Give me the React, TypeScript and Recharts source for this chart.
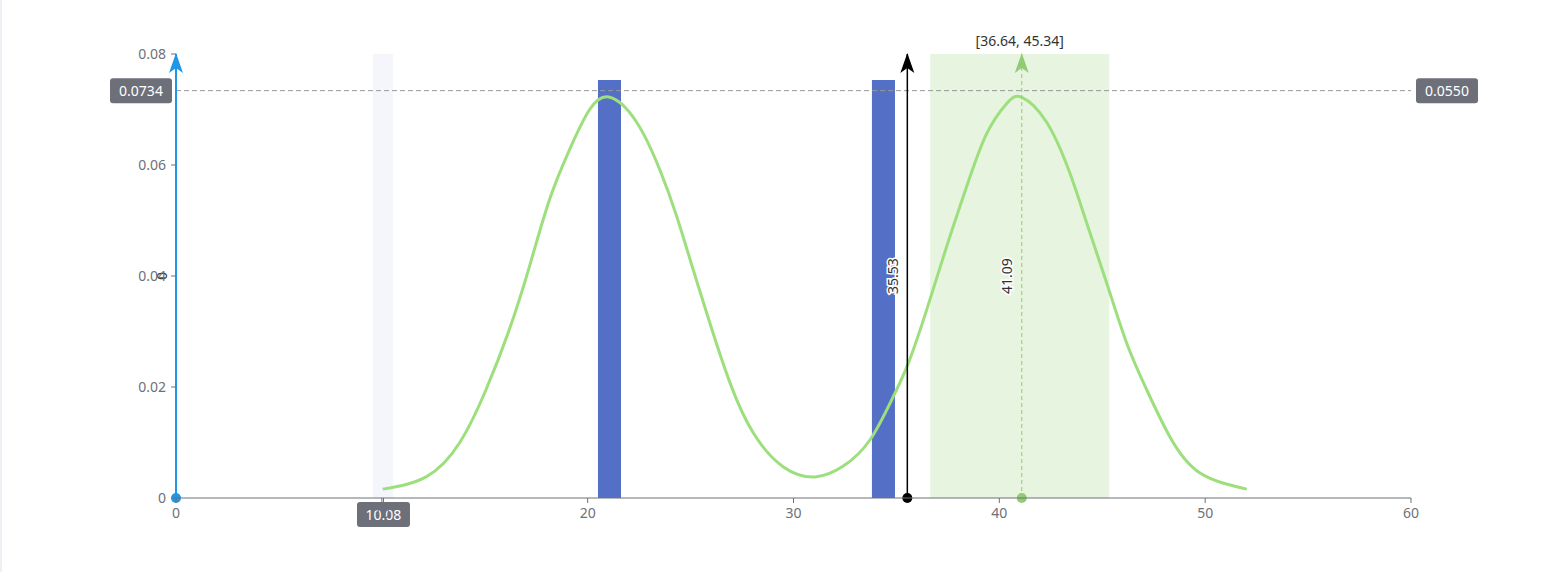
import React from 'react';
import { ComposedChart, Line, XAxis, YAxis, ReferenceArea, ReferenceLine } from 'recharts';

// ---- data ----
const curveX = [10.04, 12.15, 13.77, 15.06, 16.19, 17.17, 18.14, 19.11, 20.08, 21.08, 22.38, 23.51, 24.33, 25.13, 25.94, 26.92, 28.05, 29.51, 31.05, 32.4, 33.72, 34.85, 35.58, 36.47, 37.44, 38.41, 39.39, 40.36, 41.09, 42.3, 43.43, 44.25, 45.22, 46.19, 47.16, 48.29, 49.75, 52.02];
const curveY = [0.0016, 0.0038, 0.0099, 0.0195, 0.0303, 0.0417, 0.0537, 0.0627, 0.0699, 0.0722, 0.0677, 0.0591, 0.0507, 0.0411, 0.0315, 0.0207, 0.0117, 0.0056, 0.0038, 0.0057, 0.0105, 0.0183, 0.0243, 0.0339, 0.0453, 0.0561, 0.0657, 0.0711, 0.0722, 0.0677, 0.0585, 0.0495, 0.0387, 0.0279, 0.0195, 0.011, 0.0045, 0.0016];

const xTicks = [0, 10, 20, 30, 40, 50, 60];
const yTicks = [0, 0.02, 0.04, 0.06, 0.08];

const barStarts = [20.5, 33.81];
const barEnds = [21.62, 34.93];
const barValues = [0.0753, 0.0753];

const pointerValue = 10.08;
const pointerBand = [9.57, 10.55];
const pointerLabel = '10.08';

const markLineXs = [0, 35.53, 41.09];
const markLineLabels = ['0', '35.53', '41.09'];

const hLineValue = 0.0734;
const hLineLabels = ['0.0734', '0.0550'];

const areaRange = [36.64, 45.34];
const areaLabel = '[36.64, 45.34]';

// ---- styles ----
const FONT = '"Noto Sans", "DejaVu Sans", sans-serif';
const AXIS = '#6E7079';
const BLUE = '#5470c6';
const GREEN = '#91cc75';
const CURVE = '#9ddf7d';
const markLineColors = ['#1f97e6', '#000000', GREEN];
const markLineDashes = [undefined, undefined, '4 3'];
const markLineWidths = [2, 1.5, 1];

const curveData = curveX.map((x, i) => ({ x, y: curveY[i] }));

const VLineDecor = (props: any, color: string, text: string) => {
  const vb = props.viewBox || {};
  const x = vb.x;
  const top = vb.y;
  const bottom = vb.y + vb.height;
  const mid = vb.y + vb.height / 2;
  const lx = x - 15;
  return (
    <g>
      <path d={`M${x},${top - 1} L${x - 7},${top + 19} L${x},${top + 14} L${x + 7},${top + 19} Z`} fill={color} />
      <circle cx={x} cy={bottom} r={5} fill={color} />
      <text
        x={lx}
        y={mid}
        transform={`rotate(-90 ${lx} ${mid})`}
        textAnchor="middle"
        dominantBaseline="central"
        fontSize={14}
        fill="#333"
        stroke="#fff"
        strokeWidth={3}
        paintOrder="stroke"
        fontFamily={FONT}
      >
        {text}
      </text>
    </g>
  );
};

const Badge = ({ cx, cy, w, h, text }: { cx: number; cy: number; w: number; h: number; text: string }) => (
  <g>
    <rect x={cx - w / 2} y={cy - h / 2} width={w} height={h} rx={3} ry={3} fill={AXIS} />
    <text x={cx} y={cy} textAnchor="middle" dominantBaseline="central" fontSize={14} fill="#fff" fontFamily={FONT}>
      {text}
    </text>
  </g>
);

const HLineLabels = (props: any) => {
  const vb = props.viewBox || {};
  const y = vb.y;
  return (
    <g>
      <Badge cx={vb.x - 35} cy={y} w={62} h={25} text={hLineLabels[0]} />
      <Badge cx={vb.x + vb.width + 36} cy={y} w={62} h={25} text={hLineLabels[1]} />
    </g>
  );
};

const PointerLabel = (props: any) => {
  const vb = props.viewBox || {};
  const x = vb.x;
  const bottom = vb.y + vb.height;
  return (
    <g>
      <line x1={x} y1={bottom} x2={x} y2={bottom + 5} stroke={AXIS} strokeWidth={1} />
      <Badge cx={x} cy={bottom + 16.5} w={53} h={25} text={pointerLabel} />
    </g>
  );
};

const AreaLabel = (props: any) => {
  const vb = props.viewBox || {};
  return (
    <text x={vb.x + vb.width / 2} y={vb.y - 14} textAnchor="middle" dominantBaseline="central" fontSize={14} fill="#333" fontFamily={FONT}>
      {areaLabel}
    </text>
  );
};

export default function App() {
  return (
    <div style={{ position: 'absolute', left: 0, top: 0, width: 1551, height: 572, background: '#fff' }}>
      <div style={{ position: 'absolute', left: 0, top: 0, width: 2, height: 572, background: '#eef0f5' }} />
      <ComposedChart
        width={1551}
        height={572}
        data={curveData}
        margin={{ top: 54, right: 140, bottom: 44, left: 116 }}
        style={{ fontFamily: FONT }}
      >
        <XAxis
          dataKey="x"
          type="number"
          domain={[0, 60]}
          ticks={xTicks}
          interval={0}
          height={30}
          axisLine={{ stroke: AXIS }}
          tickLine={{ stroke: AXIS }}
          tickSize={5}
          tickMargin={5}
          tick={{ fill: AXIS, fontSize: 14, fontFamily: FONT }}
          allowDataOverflow
        />
        <YAxis
          type="number"
          domain={[0, 0.08]}
          ticks={yTicks}
          interval={0}
          width={60}
          axisLine={false}
          tickLine={{ stroke: AXIS }}
          tickSize={5}
          tickMargin={5}
          tick={{ fill: AXIS, fontSize: 14, fontFamily: FONT }}
          tickFormatter={(v: number) => (v === 0 ? '0' : v.toFixed(2))}
          allowDataOverflow
        />
        <ReferenceArea
          x1={pointerBand[0]}
          x2={pointerBand[1]}
          y1={0}
          y2={0.08}
          fill="#f5f6fb"
          fillOpacity={1}
          stroke="none"
          ifOverflow="visible"
        />
        <ReferenceArea
          x1={areaRange[0]}
          x2={areaRange[1]}
          y1={0}
          y2={0.08}
          fill="#e7f4e0"
          fillOpacity={1}
          stroke="none"
          label={(p: any) => <AreaLabel {...p} />}
          ifOverflow="visible"
        />
        {barStarts.map((s, i) => (
          <ReferenceArea
            key={`bar-${i}`}
            x1={s}
            x2={barEnds[i]}
            y1={0}
            y2={barValues[i]}
            fill={BLUE}
            fillOpacity={1}
            stroke="none"
            ifOverflow="visible"
          />
        ))}
        <ReferenceLine
          y={hLineValue}
          stroke="#999"
          strokeDasharray="5 3"
          strokeWidth={1}
          label={(p: any) => <HLineLabels {...p} />}
          ifOverflow="visible"
        />
        <Line
          type="natural"
          dataKey="y"
          stroke={CURVE}
          strokeWidth={3}
          dot={false}
          activeDot={false}
          isAnimationActive={false}
        />
        <ReferenceLine
          x={pointerValue}
          stroke="none"
          strokeOpacity={0}
          label={(p: any) => <PointerLabel {...p} />}
          ifOverflow="visible"
        />
        {markLineXs.map((mx, i) => (
          <ReferenceLine
            key={`ml-${i}`}
            x={mx}
            stroke={markLineColors[i]}
            strokeWidth={markLineWidths[i]}
            strokeDasharray={markLineDashes[i]}
            label={(p: any) => VLineDecor(p, markLineColors[i], markLineLabels[i])}
            ifOverflow="visible"
          />
        ))}
      </ComposedChart>
    </div>
  );
}
